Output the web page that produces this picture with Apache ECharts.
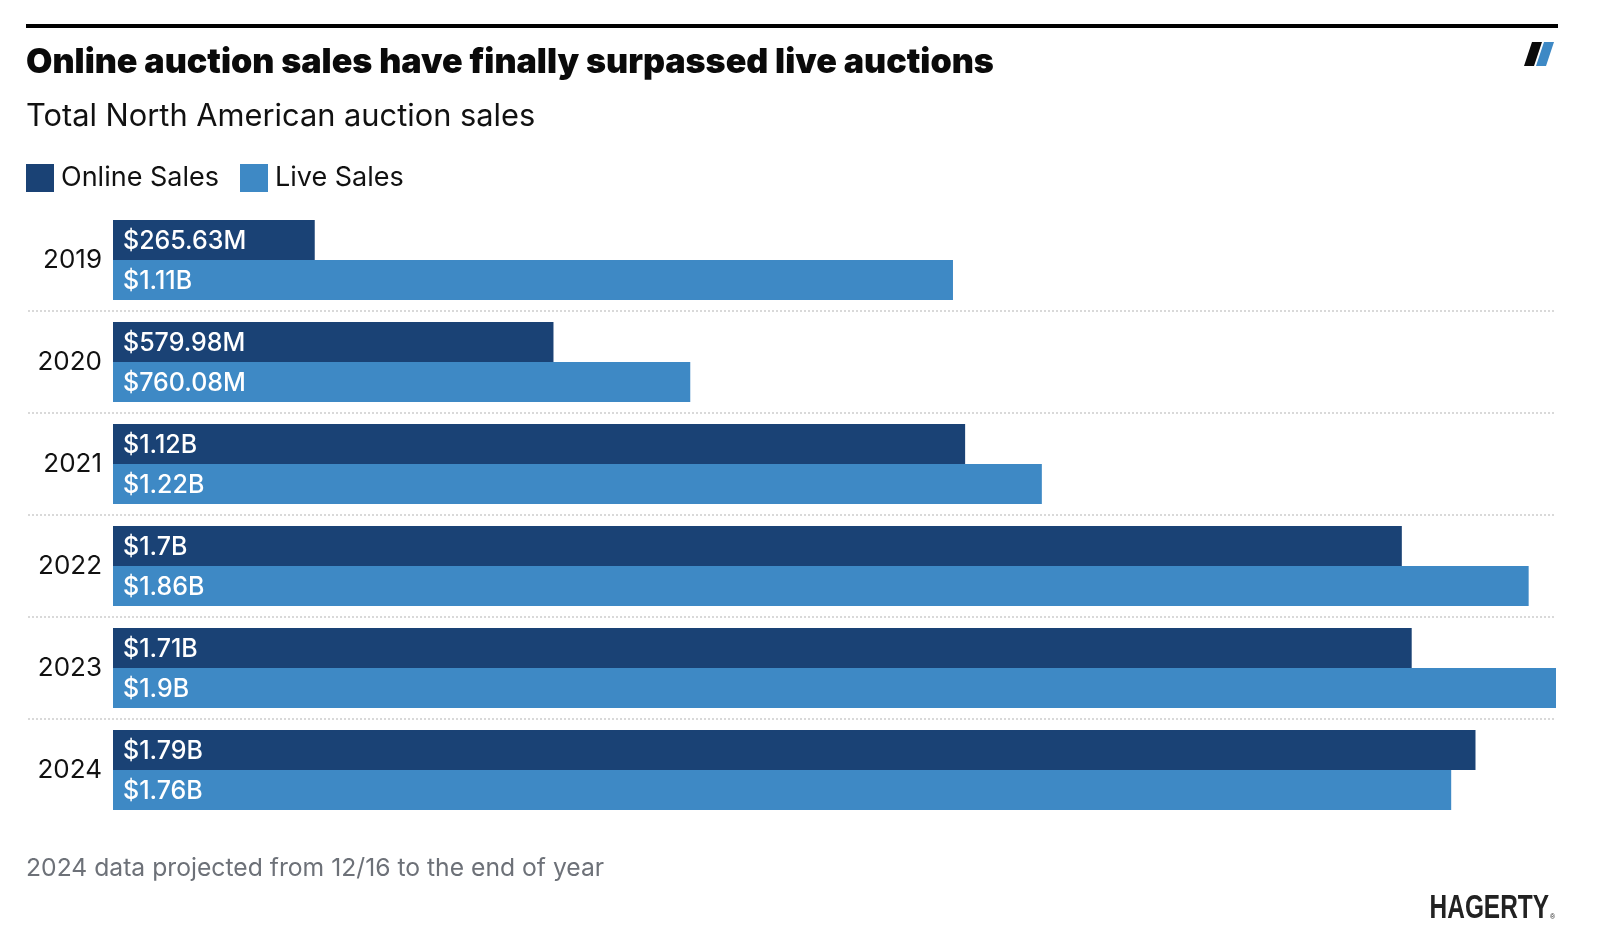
<!DOCTYPE html>
<html><head><meta charset="utf-8">
<script src="https://cdn.jsdelivr.net/npm/echarts@6/dist/echarts.min.js"></script>
<style>html,body{margin:0;padding:0;background:#fff}#chart{width:1608px;height:940px}</style>
</head><body><div id="chart"></div>
<script>
// ---- data (values in $ millions) ----
const years = ['2019', '2020', '2021', '2022', '2023', '2024'];
const onlineSales = [265.63, 579.98, 1122, 1697, 1710, 1794];
const liveSales = [1106, 760.08, 1223, 1864, 1900, 1762];
const seriesNames = ['Online Sales', 'Live Sales'];
const titleText = 'Online auction sales have finally surpassed live auctions';
const subtitleText = 'Total North American auction sales';
const noteText = '2024 data projected from 12/16 to the end of year';
const brandText = 'HAGERTY';

const FONT = 'Inter, "Liberation Sans", Arial, sans-serif';
const DARK = '#1a4275', LIGHT = '#3e89c5';

function fmt(v) {
  return v < 1000 ? '$' + v.toFixed(2) + 'M' : '$' + (+(v / 1000).toFixed(2)) + 'B';
}

const chart = echarts.init(document.getElementById('chart'), null, {renderer: 'canvas'});

const barLabel = {
  show: true, position: 'insideLeft', distance: 10, offset: [0, 1.5], color: '#fff',
  fontSize: 25, fontFamily: FONT, fontWeight: 500,
  formatter: p => fmt(p.value)
};

chart.setOption({
  animation: false,
  backgroundColor: '#fff',
  legend: {
    data: seriesNames, left: 26, top: 164, padding: 0,
    itemWidth: 28, itemHeight: 28, itemGap: 21, icon: 'rect',
    textStyle: {fontSize: 27, fontFamily: FONT, color: '#111', padding: [0, 0, 0, 2]}
  },
  grid: [
    {left: 113, right: 52, top: 209, height: 612},
    {left: 28, right: 52, top: 209, height: 612}
  ],
  xAxis: [
    {type: 'value', gridIndex: 0, min: 0, max: 'dataMax', show: false},
    {type: 'value', gridIndex: 1, show: false}
  ],
  yAxis: [
    {
      type: 'category', gridIndex: 0, data: years, inverse: true,
      axisLine: {show: false}, axisTick: {show: false}, splitLine: {show: false},
      axisLabel: {margin: 11, fontSize: 26, fontFamily: FONT, color: '#111', padding: [2, 0, 0, 0]}
    },
    {
      type: 'category', gridIndex: 1, data: years, inverse: true,
      axisLine: {show: false}, axisTick: {show: false}, axisLabel: {show: false},
      splitLine: {show: true, showMinLine: false, showMaxLine: false,
        lineStyle: {color: '#d9d9d9', width: 2, type: [2, 2]}}
    }
  ],
  series: [
    {name: seriesNames[0], type: 'bar', data: onlineSales, barWidth: 40, barGap: '0%',
      itemStyle: {color: DARK}, label: barLabel},
    {name: seriesNames[1], type: 'bar', data: liveSales, barWidth: 40, barGap: '0%',
      itemStyle: {color: LIGHT}, label: barLabel}
  ],
  graphic: [
    {type: 'rect', shape: {x: 26, y: 24, width: 1532, height: 4}, style: {fill: '#000'}},
    {type: 'polygon', shape: {points: [[1532, 42], [1542, 42], [1534, 66], [1524, 66]]}, style: {fill: '#0b0b0b'}},
    {type: 'polygon', shape: {points: [[1544, 42], [1554, 42], [1546, 66], [1536, 66]]}, style: {fill: LIGHT}},
    {type: 'text', x: 26, y: 63, style: {text: titleText, fill: '#0a0a0a',
      font: '900 34.1px ' + FONT, align: 'left', verticalAlign: 'middle'}},
    {type: 'text', x: 26, y: 117, style: {text: subtitleText, fill: '#111',
      font: '400 30.8px ' + FONT, align: 'left', verticalAlign: 'middle'}},
    {type: 'text', x: 26, y: 869, style: {text: noteText, fill: '#6d7178',
      font: '400 24.7px ' + FONT, align: 'left', verticalAlign: 'middle'}},
    {type: 'text', x: 1549, y: 909, scaleX: 0.74, style: {text: brandText, fill: '#222',
      font: '900 33px "Liberation Sans", Arial, sans-serif', align: 'right', verticalAlign: 'middle'}},
    {type: 'text', x: 1550, y: 917, style: {text: '®', fill: '#222',
      font: '400 7px "Liberation Sans", Arial, sans-serif', align: 'left', verticalAlign: 'middle'}}
  ]
});
</script>
</body></html>
